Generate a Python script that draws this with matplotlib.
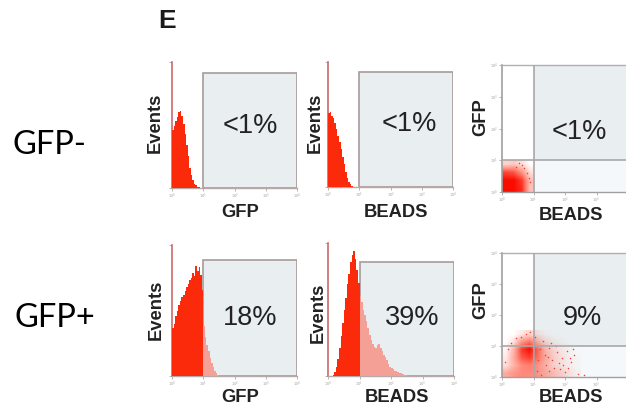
import numpy as np
import matplotlib
matplotlib.use('Agg')
import matplotlib.pyplot as plt
from matplotlib.patches import Rectangle
from matplotlib.colors import LinearSegmentedColormap

W, H = 626, 408

# ---------------- data ----------------
panel_letter = 'E'
row_labels = ['GFP-', 'GFP+']
hist_xlabels = ['GFP', 'BEADS']
scatter_xlabel = 'BEADS'
scatter_ylabel = 'GFP'
hist_ylabel = 'Events'
gate_pcts_neg = ['<1%', '<1%', '<1%']
gate_pcts_pos = ['18%', '39%', '9%']
decade_ticks = [0, 1, 2, 3, 4]
decade_labels = ['$10^0$', '$10^1$', '$10^2$', '$10^3$', '$10^4$']
gate_decade = 1.0
bin_width = 0.05  # decades per histogram bin

# histogram heights (% of axis height), 0.05-decade bins
neg_gfp_start = 0.0
neg_gfp = [46, 49, 53, 56, 60, 61, 57, 51, 43, 34, 25, 16, 10, 6, 3.5, 2, 1, 0.5]
neg_beads_start = 0.0
neg_beads = [59, 60, 57, 55, 51, 46, 41, 36, 30, 24, 18, 12, 7, 4, 2, 1]
pos_gfp_start = 0.0
pos_gfp = [37, 40, 46, 50, 54, 57, 60, 62, 65, 68, 70, 73, 75, 79, 76, 84, 80, 83,
           77, 66, 38, 30, 24, 19, 14, 10, 7, 4, 2.5, 1]
pos_beads_start = 0.15
pos_beads = [1, 3, 7, 13, 21, 30, 40, 50, 59, 69, 77, 86, 91, 94, 88, 80, 70,
             60, 56, 50, 46, 41, 36, 31, 27, 24, 22, 21, 23, 24, 21, 19, 16, 14,
             12, 9, 7, 6, 5, 4, 3.5, 3, 2.5, 2, 1.5, 1, 0.8]
gate_top_hist = [91, 92, 88.5, 85.7]

# dot-plot density (0.25-decade cells, rows from low GFP upward)
cell = 0.25
neg_density = [[1.0, 1.0, 0.9, 0.3],
               [1.0, 1.0, 0.85, 0.3],
               [0.8, 0.75, 0.5, 0.15],
               [0.2, 0.25, 0.15, 0.0]]
pos_density = [[0.40, 0.50, 0.55, 0.55, 0.50, 0.40, 0.30, 0.22, 0.12, 0.05],
               [0.15, 0.35, 0.55, 0.60, 0.50, 0.35, 0.20, 0.12, 0.06, 0.02],
               [0.10, 0.40, 0.75, 0.85, 0.65, 0.40, 0.22, 0.12, 0.05, 0.02],
               [0.05, 0.35, 0.85, 1.00, 0.70, 0.35, 0.18, 0.10, 0.05, 0.00],
               [0.00, 0.15, 0.50, 0.65, 0.35, 0.15, 0.06, 0.02, 0.00, 0.00],
               [0.00, 0.00, 0.10, 0.20, 0.08, 0.02, 0.00, 0.00, 0.00, 0.00]]
neg_sparse_x = [0.70, 0.80, 0.65, 0.90, 0.45, 0.85, 0.55]
neg_sparse_y = [0.75, 0.60, 0.85, 0.30, 0.80, 0.45, 0.90]
pos_sparse_x = [1.2, 1.35, 1.5, 1.6, 1.75, 1.9, 2.05, 2.2, 1.4, 1.65, 1.85, 2.1, 2.3,
                1.3, 1.05, 0.9, 0.6, 1.55, 2.0, 2.4, 1.1, 0.2, 0.1, 0.3, 2.6, 1.45,
                1.8, 2.15, 1.25, 0.75, 1.15, 1.7, 1.95, 0.45, 1.5, 2.25]
pos_sparse_y = [0.9, 0.7, 0.95, 0.55, 0.8, 0.6, 0.85, 0.5, 0.4, 0.3, 0.25, 0.3, 0.7,
                1.15, 1.3, 1.45, 1.3, 1.1, 0.15, 0.1, 0.2, 0.9, 0.5, 1.1, 0.05, 0.65,
                0.45, 0.6, 0.05, 1.4, 0.55, 1.0, 0.4, 1.25, 0.2, 0.9]

# ---------------- style ----------------
DARK_RED = '#fa2a0a'
PINK = '#f4a097'
GATE_FACE = '#e9eef0'
GATE_EDGE = '#a89a9a'
TXT = '#222222'
plt.rcParams['font.family'] = ['Liberation Sans', 'DejaVu Sans']

fig = plt.figure(figsize=(W / 100, H / 100), dpi=100)
fig.patch.set_facecolor('white')


def add_ax(x0, y0, x1, y1):
    return fig.add_axes([x0 / W, 1 - y1 / H, (x1 - x0) / W, (y1 - y0) / H])


def ftext(x, y, s, **kw):
    fig.text(x / W, 1 - y / H, s, **kw)


def style_axes(ax, left_color, bottom_color, top=False):
    for s in ['right', 'top']:
        ax.spines[s].set_visible(False)
    if top:
        ax.spines['top'].set_visible(True)
        ax.spines['top'].set_color('#b0b0b0')
        ax.spines['top'].set_linewidth(1.0)
    ax.spines['left'].set_color(left_color)
    ax.spines['left'].set_linewidth(1.2)
    ax.spines['bottom'].set_color(bottom_color)
    ax.spines['bottom'].set_linewidth(1.0)
    ax.set_facecolor('none')
    ax.set_xticks(decade_ticks)
    ax.set_xticklabels(decade_labels)
    ax.tick_params(axis='both', length=2, width=0.6, colors='#b0a8a8',
                   labelsize=2.6, labelcolor='#a0a0a0', pad=0.8)


def hist_panel(box, start, heights, gate_top, pct, xlabel, label_xy, pct_xy, ylab_xy):
    ax = add_ax(*box)
    ax.set_xlim(0, 4)
    ax.set_ylim(0, 100)
    ax.add_patch(Rectangle((gate_decade, 0), 4 - gate_decade, gate_top,
                           facecolor=GATE_FACE, edgecolor=GATE_EDGE, lw=1.2, zorder=1))
    n = len(heights)
    edges = start + bin_width * np.arange(n + 1)
    h = np.asarray(heights, dtype=float)
    lefts = edges[:-1]
    dark = lefts < gate_decade - 1e-9
    k = int(dark.sum())
    if k > 0:
        ax.stairs(h[:k], edges[:k + 1], fill=True, color=DARK_RED, zorder=3, lw=0)
    if k < n:
        ax.stairs(h[k:], edges[k:], fill=True, color=PINK, zorder=3, lw=0)
    style_axes(ax, '#cc6a6a', '#b8a8a8')
    ax.set_yticks([0, 100])
    ax.set_yticklabels(['', ''])
    ftext(*pct_xy, pct, fontsize=19.5, color=TXT, ha='center', va='center')
    ftext(*label_xy, xlabel, fontsize=13.2, fontweight='bold', color=TXT,
          ha='center', va='center')
    ftext(*ylab_xy, hist_ylabel, fontsize=13.2, fontweight='bold', color=TXT,
          ha='center', va='center', rotation=90)
    return ax


def dot_panel(box, density, sx, sy, pct, label_xy, pct_xy, ylab_xy):
    ax = add_ax(*box)
    ax.set_xlim(0, 4)
    ax.set_ylim(0, 4)
    ax.add_patch(Rectangle((1, 1), 3, 3, facecolor=GATE_FACE, edgecolor='none', zorder=0))
    ax.add_patch(Rectangle((1, 0), 3, 1, facecolor='#f4f8fa', edgecolor='none', zorder=0))
    d = np.asarray(density, dtype=float)
    ny, nx = d.shape
    cmap = LinearSegmentedColormap.from_list(
        'redalpha', [(1, 0.2, 0.1, 0.0), (1, 0.25, 0.15, 0.55), (0.98, 0.05, 0.0, 1.0)])
    ax.imshow(d, extent=[0, nx * cell, 0, ny * cell], origin='lower', cmap=cmap,
              vmin=0, vmax=1, interpolation='bilinear', aspect='auto', zorder=2)
    ax.scatter(sx, sy, s=1.2, color='#f04030', lw=0, zorder=3)
    ax.axvline(1, color='#a8a8a8', lw=1.2, zorder=4)
    ax.axhline(1, color='#a8a8a8', lw=1.2, zorder=4)
    style_axes(ax, '#a0a0a0', '#a0a0a0', top=True)
    ax.set_xticklabels(decade_labels[:-1] + [''])
    ax.set_yticks(decade_ticks)
    ax.set_yticklabels(decade_labels)
    ftext(*pct_xy, pct, fontsize=19.5, color=TXT, ha='center', va='center')
    ftext(*label_xy, scatter_xlabel, fontsize=13.2, fontweight='bold', color=TXT,
          ha='center', va='center')
    ftext(*ylab_xy, scatter_ylabel, fontsize=13.2, fontweight='bold', color=TXT,
          ha='center', va='center', rotation=90)
    return ax


# panel letter and row labels
ftext(158, 21, panel_letter, fontsize=19, fontweight='bold', color='#1a1a1a',
      ha='left', va='center')
ftext(13, 145, row_labels[0], fontsize=23.5, color='black', ha='left', va='center',
      family=['Lato', 'DejaVu Sans'])
ftext(15, 318, row_labels[1], fontsize=23.5, color='black', ha='left', va='center',
      family=['Lato', 'DejaVu Sans'])

# row 1 (GFP-)
hist_panel((172, 62, 297, 188), neg_gfp_start, neg_gfp, gate_top_hist[0],
           gate_pcts_neg[0], hist_xlabels[0], (240, 212), (250, 126), (155, 123))
hist_panel((328, 62, 453, 187), neg_beads_start, neg_beads, gate_top_hist[1],
           gate_pcts_neg[1], hist_xlabels[1], (396, 212), (409, 124), (315, 123))
dot_panel((502, 65, 628, 192), neg_density, neg_sparse_x, neg_sparse_y,
          gate_pcts_neg[2], (571, 215), (579, 132), (481, 117))

# row 2 (GFP+)
hist_panel((172, 245, 297, 376), pos_gfp_start, pos_gfp, gate_top_hist[2],
           gate_pcts_pos[0], hist_xlabels[0], (240, 398), (250, 318), (156, 310))
hist_panel((328, 243, 454, 376), pos_beads_start, pos_beads, gate_top_hist[3],
           gate_pcts_pos[1], hist_xlabels[1], (397, 398), (412, 318), (318, 313))
dot_panel((502, 253, 628, 377), pos_density, pos_sparse_x, pos_sparse_y,
          gate_pcts_pos[2], (571, 398), (582, 318), (481, 300))

fig.savefig('out.png', dpi=100, facecolor='white')
